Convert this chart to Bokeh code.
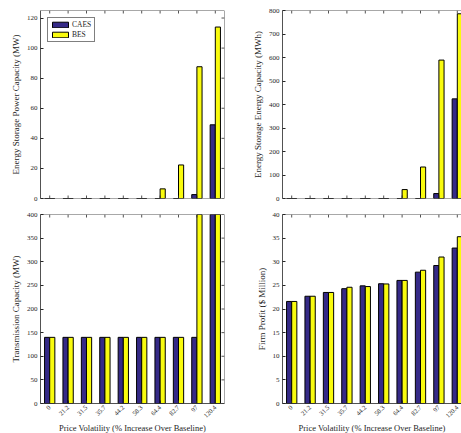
import numpy as np
from bokeh.plotting import figure
from bokeh.layouts import row, column
from bokeh.models import Range1d, FixedTicker, Legend, LegendItem, ColumnDataSource, Span
from bokeh.transform import dodge
from bokeh.embed import file_html
from bokeh.resources import INLINE

# ---------------- data ----------------
volatility = ["0", "21.2", "31.5", "35.7", "44.2", "58.3", "64.4", "82.7", "97", "120.4"]

power_caes = [0, 0, 0, 0, 0, 0, 0, 0, 2.6, 49]
power_bes = [0, 0, 0, 0, 0, 0, 6.4, 22.3, 87.6, 114]

energy_caes = [0, 0, 0, 0, 0, 0, 0, 0, 21, 424]
energy_bes = [0, 0, 0, 0, 0, 0, 38, 134, 589, 786]

trans_caes = [140, 140, 140, 140, 140, 140, 140, 140, 140, 560]
trans_bes = [140, 140, 140, 140, 140, 140, 140, 140, 560, 560]

profit_caes = [21.6, 22.7, 23.5, 24.3, 24.9, 25.35, 26.05, 27.8, 29.2, 32.9]
profit_bes = [21.6, 22.7, 23.5, 24.6, 24.75, 25.3, 26.05, 28.2, 31.0, 35.3]

power_ticks = [0, 20, 40, 60, 80, 100, 120]
energy_ticks = [0, 100, 200, 300, 400, 500, 600, 700, 800]
trans_ticks = [0, 50, 100, 150, 200, 250, 300, 350, 400]
profit_ticks = [0, 5, 10, 15, 20, 25, 30, 35, 40]

CAES_COLOR = "#352A87"
BES_COLOR = "#F9FB0E"
AX_COLOR = "#262626"
FONT = "Liberation Serif"

xs = np.arange(1, len(volatility) + 1)
overrides = {int(i): s for i, s in zip(xs, volatility)}

FW = 184          # frame width of a full panel
RIGHT_FW = 179    # visible part of the right panels
TICK = 3


def style_axis(ax, ticks, size="7px", standoff=3):
    ax.ticker = FixedTicker(ticks=list(ticks))
    ax.axis_line_color = AX_COLOR
    ax.axis_line_width = 0.8
    ax.major_tick_line_color = AX_COLOR
    ax.major_tick_in = TICK
    ax.major_tick_out = 0
    ax.minor_tick_line_color = None
    ax.major_label_text_font = FONT
    ax.major_label_text_color = AX_COLOR
    ax.major_label_standoff = standoff
    ax.major_label_text_font_size = size


def make_fig(caes, bes, ymax, yticks, ylabel, left_col, bottom_row, legend=False):
    fw = FW if left_col else RIGHT_FW
    x_end = 0.5 + len(volatility) * fw / FW
    p = figure(frame_width=fw,
               frame_height=189 if bottom_row else 188,
               x_range=Range1d(0.5, x_end), y_range=Range1d(0, ymax),
               output_backend="svg", toolbar_location=None,
               min_border_left=40 if left_col else 54,
               min_border_right=4 if left_col else 0,
               min_border_top=8 if bottom_row else 10,
               min_border_bottom=28 if bottom_row else 8,
               background_fill_color="white", border_fill_color="white",
               outline_line_color=None)
    p.grid.visible = False
    src = ColumnDataSource(dict(x=xs, caes=caes, bes=bes))
    r1 = p.vbar(x=dodge("x", -0.14), top="caes", width=0.28, source=src,
                fill_color=CAES_COLOR, line_color="black", line_width=1)
    r2 = p.vbar(x=dodge("x", 0.14), top="bes", width=0.28, source=src,
                fill_color=BES_COLOR, line_color="black", line_width=1)

    style_axis(p.yaxis[0], yticks)
    p.yaxis.axis_label = ylabel
    p.yaxis.axis_label_text_font = FONT
    p.yaxis.axis_label_text_font_style = "normal"
    p.yaxis.axis_label_text_font_size = "9px"
    p.yaxis.axis_label_text_color = AX_COLOR
    p.yaxis.axis_label_standoff = 3

    n = len(xs)
    if bottom_row:
        style_axis(p.xaxis[0], xs, size="6.5px", standoff=3)
        p.xaxis.major_label_overrides = overrides
        p.xaxis.major_label_orientation = np.pi / 4
        p.xaxis.axis_label = "Price Volatility (% Increase Over Baseline)"
        p.xaxis.axis_label_text_font = FONT
        p.xaxis.axis_label_text_font_style = "normal"
        p.xaxis.axis_label_text_font_size = "8.5px"
        p.xaxis.axis_label_text_color = AX_COLOR
        p.xaxis.axis_label_standoff = 0
    else:
        p.xaxis.visible = False
        p.add_layout(Span(location=0, dimension="width",
                          line_color=AX_COLOR, line_width=0.8))
        p.ray(x=xs, y=[0] * n, length=TICK, length_units="screen",
              angle=np.pi / 2, line_color=AX_COLOR, line_width=0.8)

    # box: top edge with inward ticks
    p.add_layout(Span(location=ymax, dimension="width",
                      line_color=AX_COLOR, line_width=0.8))
    p.ray(x=xs, y=[ymax] * n, length=TICK, length_units="screen",
          angle=-np.pi / 2, line_color=AX_COLOR, line_width=0.8)
    if left_col:
        p.add_layout(Span(location=x_end, dimension="height",
                          line_color=AX_COLOR, line_width=0.8))
        p.ray(x=[x_end] * len(yticks), y=yticks, length=TICK,
              length_units="screen", angle=np.pi,
              line_color=AX_COLOR, line_width=0.8)

    if legend:
        lg = Legend(items=[LegendItem(label="CAES", renderers=[r1]),
                           LegendItem(label="BES", renderers=[r2])],
                    location="top_left", margin=7, padding=2, spacing=1,
                    glyph_width=20, glyph_height=7, label_height=8,
                    label_standoff=2, label_text_font=FONT,
                    label_text_font_size="7.5px", label_text_color=AX_COLOR,
                    border_line_color="black", border_line_width=0.6,
                    background_fill_color="white", background_fill_alpha=1)
        p.add_layout(lg)
    return p


tl = make_fig(power_caes, power_bes, 125, power_ticks,
              "Energy Storage Power Capacity (MW)", True, False, legend=True)
tr = make_fig(energy_caes, energy_bes, 800, energy_ticks,
              "Energy Storage Energy Capacity (MWh)", False, False)
bl = make_fig(trans_caes, trans_bes, 400, trans_ticks,
              "Transmission Capacity (MW)", True, True)
br = make_fig(profit_caes, profit_bes, 40, profit_ticks,
              "Firm Profit ($ Million)", False, True)

layout = row(column(tl, bl, spacing=0), column(tr, br, spacing=0), spacing=0)

open("out.html", "w").write(file_html(layout, INLINE))
